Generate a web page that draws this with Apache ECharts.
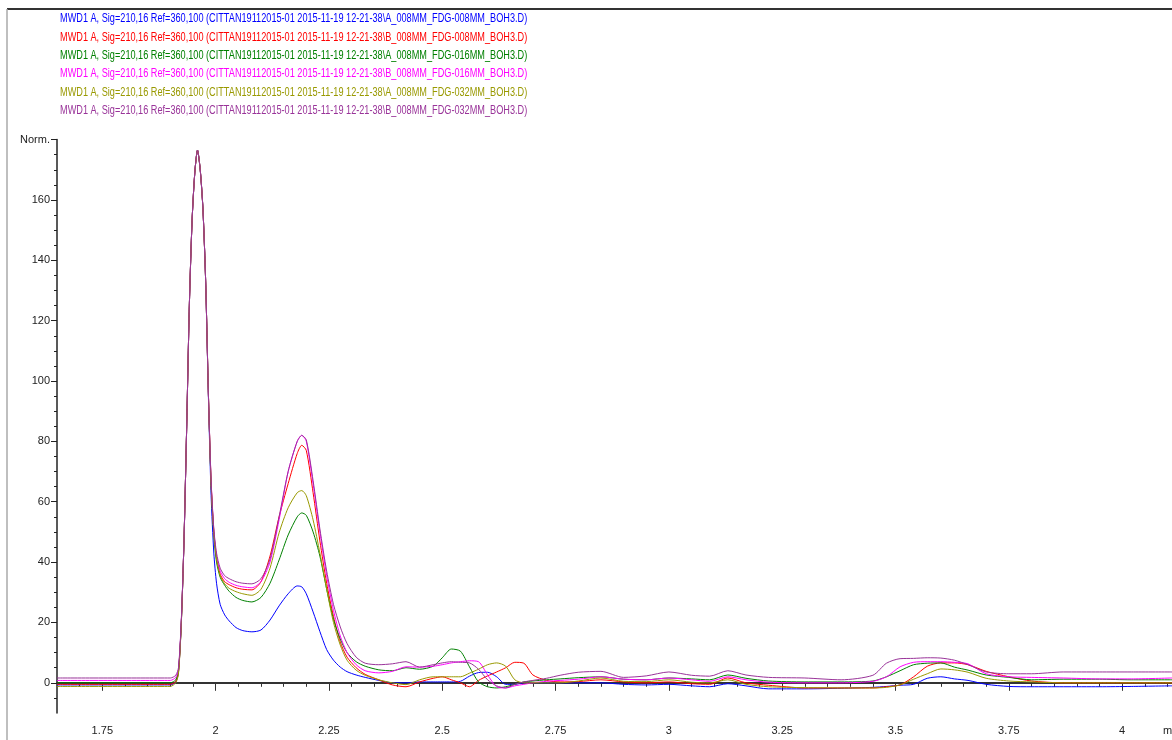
<!DOCTYPE html>
<html>
<head>
<meta charset="utf-8">
<script src="https://cdn.jsdelivr.net/npm/echarts@6/dist/echarts.min.js"></script>
<style>
html,body{margin:0;padding:0;background:#fff;}
#chart{width:1172px;height:740px;}
</style>
</head>
<body>
<div id="chart"></div>
<script>
// retention time (min)
const time = [1.65,1.90,1.912,1.918,1.924,1.93,1.936,1.942,1.948,1.954,
  1.96,1.966,1.972,1.978,1.984,1.99,1.996,2.002,2.01,2.02,
  2.03,2.045,2.06,2.08,2.10,2.12,2.14,2.16,2.18,2.19,
  2.20,2.215,2.23,2.245,2.26,2.275,2.29,2.31,2.33,2.36,
  2.39,2.42,2.45,2.48,2.50,2.52,2.54,2.56,2.58,2.60,
  2.62,2.64,2.66,2.68,2.70,2.73,2.76,2.80,2.85,2.90,
  2.95,3.00,3.05,3.09,3.13,3.17,3.22,3.30,3.38,3.45,
  3.48,3.51,3.54,3.57,3.60,3.63,3.66,3.70,3.75,3.80,
  3.87,3.95,4.02,4.11];

const blueA008 = [-0.7,-0.7,0.3,3.5,19,46,84,125,153,169,
  176.5,170,157,133,95,62,43,33,26,22.5,
  20.5,18.3,17.3,16.9,17.5,20.8,25.5,29.5,32.1,31.8,
  29.5,23.5,17,11,7.5,5.2,3.7,2.6,1.8,0.8,
  0,0,0.3,0.3,0.3,0.3,0.5,2.2,3.4,3.5,
  2,-0.5,-0.5,0,0,0,0,0,0,-0.5,
  -0.7,-0.5,-1,-1.3,-0.3,-1,-2,-2,-1.8,-1.5,
  -1.2,-0.8,-0.5,1.5,2,1.3,0.8,-0.5,-1.2,-1.3,
  -1.3,-1.3,-1.2,-1];

const redB008 = [-0.5,-0.5,0.5,3.5,19,46,84,125,153,169,
  176.5,170,157,133,96,66.5,50,41.5,36,33.5,
  32.5,31.5,31,30.8,33.5,42,55,66,76,78.7,
  77,63,47,33,22,13.5,8.5,5,2.8,1,
  -0.7,-1.3,0.3,1.5,2,1,0,-1.3,0.8,2.3,
  3.6,5,6.8,6.5,2.6,0.8,0.3,0.4,1,0.3,
  0,0.3,-0.3,-0.5,1.6,0,-0.8,-1.7,-1.7,-1.7,
  -1.3,-0.7,2,5.5,6.6,6.6,6,3.8,2,0.6,
  0,0,0,0];

const greenA016 = [0,0,1,4,19,46,84,125,153,169,
  176.5,170,157,133,96,65.5,49,40,35,32.3,
  30.3,28.3,27.3,26.8,28.3,33,40.7,49,55,56.3,
  55.5,50,42,31,21,14.5,10,7,5.5,4.3,
  4,5,4.5,5.5,8.3,11.2,10.5,5.3,0.3,-1.3,
  -1.7,-1.3,-0.5,0.3,0.6,1,1.3,1.7,2,1.2,
  1,1.6,1.3,1,2.6,1.5,0.6,0.3,0.3,0.6,
  2,4,6,6.5,6.6,5.2,4.2,2.6,1.8,1,
  1.2,1.2,1,1];

const magentaB016 = [0.8,0.8,1.8,4.5,19.5,46,84,125,153,169,
  176.5,170,157,133,96,67,50.5,42,37,34.5,
  33.3,32.3,31.8,31.5,33.5,40,54,70,80,82,
  80,66,50,35.5,24,15.5,10,6,4,3.3,
  3.8,5.3,5.2,5.5,6,6.6,7,7.3,7,2.6,
  -1.3,-1.7,-1,-0.5,0,0.5,0.8,1.2,2,1.2,
  1,1.6,1,0.5,2,1,0.2,0,0,0.5,
  2,5.3,6.8,7,7,6.8,6.3,3,2,1.8,
  1.6,1.3,1.3,1.6];

const oliveA032 = [-1.2,-1.2,0,3,18.5,46,84,125,153,169,
  176.5,170,157,133,96,66,50,41,35.5,32.8,
  31.3,30.2,29.5,29,31,38,49.7,58,63,63.7,
  62,54,43,31,20,12.5,7.5,4.2,2.5,1,
  0,-0.6,1,2,2,2,2,3.2,4.5,6,
  6.6,5.5,1,0,0,0,0,0.6,1.6,0.5,
  0.4,1,0.2,0,1,-0.5,-1.3,-1.6,-1.7,-1.7,
  -1.5,-0.7,1.2,3,4.6,4.3,3.5,1.5,0.6,0.3,
  0,0,0,0];

const purpleB032 = [1.6,1.6,2.5,5,20,46,84,125,153,169,
  176.5,170,157,133,96,67,51,43,38,35.5,
  34.5,33.5,33,32.8,34.5,41,55,70,80,82,
  80.5,67,51,37,26,18.5,13,8.5,6.5,6,
  6.3,7,5.2,6,6.6,7,6.8,6.6,4.5,1,
  -1,-1.7,-0.5,0.3,0.8,1.5,2.5,3.5,3.8,1.8,
  2.3,3.6,2.5,2.2,4,2.6,1.8,1.6,1,2.5,
  6.5,8,8.1,8.3,8.2,7.5,6,3.6,3,3,
  3.6,3.6,3.6,3.6];

const seriesNames = [
  'MWD1 A, Sig=210,16 Ref=360,100 (CITTAN19112015-01 2015-11-19 12-21-38\\A_008MM_FDG-008MM_BOH3.D)',
  'MWD1 A, Sig=210,16 Ref=360,100 (CITTAN19112015-01 2015-11-19 12-21-38\\B_008MM_FDG-008MM_BOH3.D)',
  'MWD1 A, Sig=210,16 Ref=360,100 (CITTAN19112015-01 2015-11-19 12-21-38\\A_008MM_FDG-016MM_BOH3.D)',
  'MWD1 A, Sig=210,16 Ref=360,100 (CITTAN19112015-01 2015-11-19 12-21-38\\B_008MM_FDG-016MM_BOH3.D)',
  'MWD1 A, Sig=210,16 Ref=360,100 (CITTAN19112015-01 2015-11-19 12-21-38\\A_008MM_FDG-032MM_BOH3.D)',
  'MWD1 A, Sig=210,16 Ref=360,100 (CITTAN19112015-01 2015-11-19 12-21-38\\B_008MM_FDG-032MM_BOH3.D)'
];
const seriesValues = [blueA008, redB008, greenA016, magentaB016, oliveA032, purpleB032];
const colors = ['#0000ff', '#ff0000', '#008000', '#ff00ff', '#999900', '#993399'];

const xMajorTicks = [1.75, 2, 2.25, 2.5, 2.75, 3, 3.25, 3.5, 3.75, 4];
const xMinorTicks = [1.70,1.80,1.85,1.90,1.95,2.05,2.10,2.15,2.20,2.30,2.35,2.40,2.45,
  2.55,2.60,2.65,2.70,2.80,2.85,2.90,2.95,3.05,3.10,3.15,3.20,3.30,3.35,3.40,3.45,
  3.55,3.60,3.65,3.70,3.80,3.85,3.90,3.95,4.05,4.10];
const yMajorTicks = [0, 20, 40, 60, 80, 100, 120, 140, 160, 180];
const yMinorTicks = [-5,5,10,15,25,30,35,45,50,55,65,70,75,85,90,95,105,110,115,
  125,130,135,145,150,155,165,170,175];

const FONT = "'Liberation Sans', Arial, sans-serif";
const chart = echarts.init(document.getElementById('chart'));

const xBase = {
  type: 'value', min: 1.65, max: 4.11, position: 'bottom', offset: 0,
  splitLine: {show: false}
};
const yBase = {
  type: 'value', min: -10, max: 180, position: 'left', offset: 0,
  splitLine: {show: false}
};

const legendTexts = seriesNames.map((n, i) => ({
  type: 'text', x: 60, y: 13 + i * 18.3, scaleX: 0.763, scaleY: 1,
  style: {text: n, fill: colors[i], font: '12px ' + FONT}
}));

chart.setOption({
  animation: false,
  backgroundColor: '#ffffff',
  grid: {left: 57, right: 0, top: 139.6, bottom: 27, containLabel: false},
  xAxis: [
    Object.assign({}, xBase, {
      axisLine: {show: true, lineStyle: {color: '#333', width: 2}},
      axisTick: {show: true, customValues: xMajorTicks, length: 8, lineStyle: {color: '#333', width: 1}},
      axisLabel: {show: true, customValues: xMajorTicks, margin: 12, color: '#222', fontSize: 11, fontFamily: FONT}
    }),
    Object.assign({}, xBase, {
      axisLine: {show: false},
      axisTick: {show: true, customValues: xMinorTicks, length: 4, lineStyle: {color: '#333', width: 1}},
      axisLabel: {show: false}
    })
  ],
  yAxis: [
    Object.assign({}, yBase, {
      axisLine: {show: true, lineStyle: {color: '#222', width: 1.5}},
      axisTick: {show: true, customValues: yMajorTicks, length: 6, lineStyle: {color: '#222', width: 1}},
      axisLabel: {show: true, customValues: yMajorTicks, margin: 7, color: '#222', fontSize: 11, fontFamily: FONT,
        formatter: v => (v === 180 ? 'Norm.' : String(v))}
    }),
    Object.assign({}, yBase, {
      axisLine: {show: false},
      axisTick: {show: true, customValues: yMinorTicks, length: 3, lineStyle: {color: '#222', width: 1}},
      axisLabel: {show: false}
    })
  ],
  series: seriesValues.map((vals, i) => ({
    name: seriesNames[i],
    type: 'line',
    xAxisIndex: 0, yAxisIndex: 0,
    data: time.map((t, j) => [t, vals[j]]),
    showSymbol: false,
    smooth: 0.25,
    lineStyle: {color: colors[i], width: 1},
    itemStyle: {color: colors[i]},
    z: 2 + i
  })),
  graphic: [
    {type: 'line', shape: {x1: 7, y1: 9, x2: 1172, y2: 9}, style: {stroke: '#333', lineWidth: 2}},
    {type: 'line', shape: {x1: 7, y1: 9, x2: 7, y2: 740}, style: {stroke: '#aaa', lineWidth: 1.5}},
    {type: 'text', left: 1163, top: 725, style: {text: 'min', fill: '#222', font: '11px ' + FONT}}
  ].concat(legendTexts)
});
</script>
</body>
</html>
